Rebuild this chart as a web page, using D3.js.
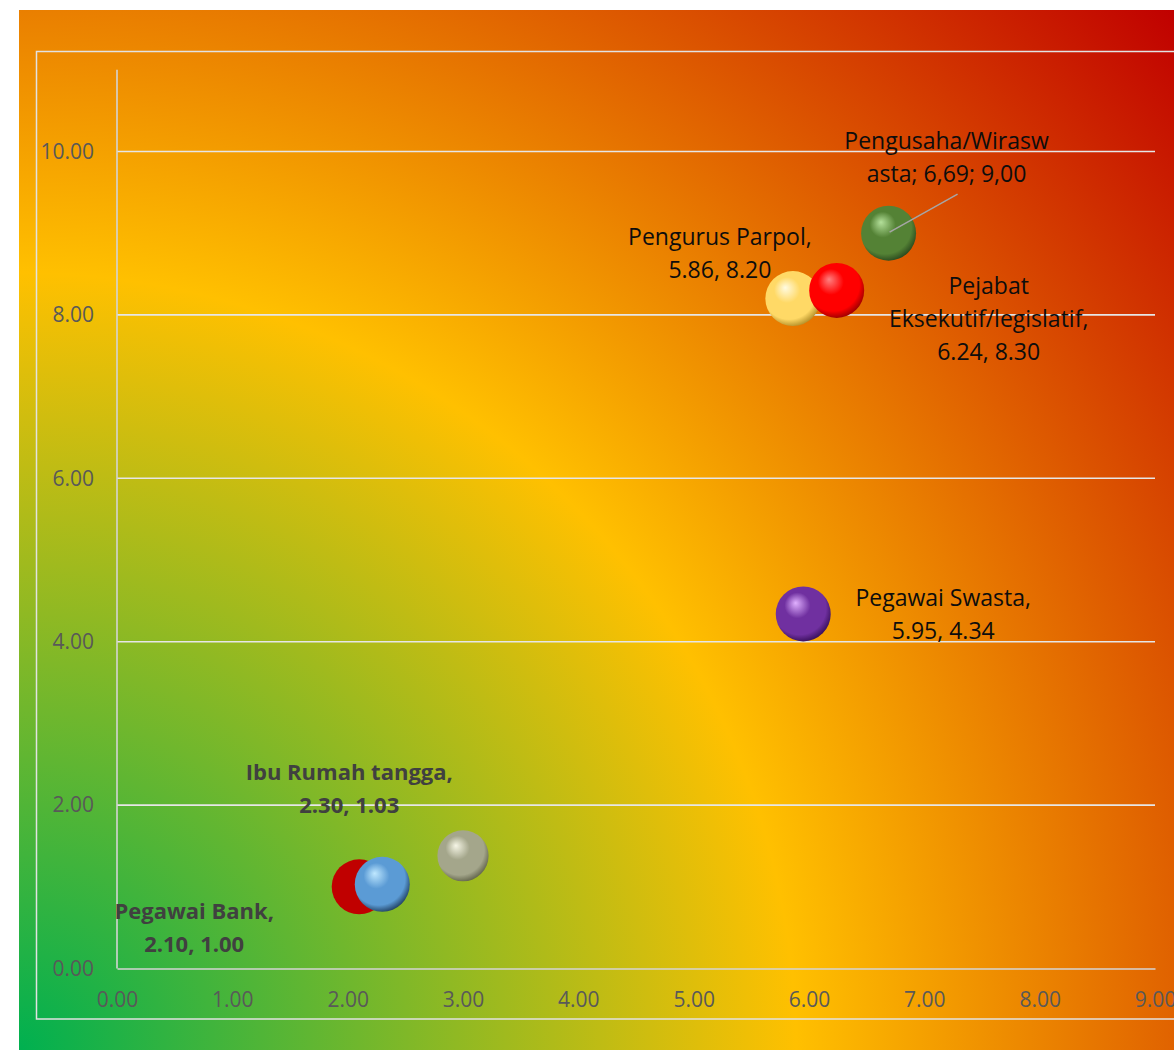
<!DOCTYPE html>
<html>
<head>
<meta charset="utf-8">
<script src="https://cdn.jsdelivr.net/npm/d3@7"></script>
<style>
  html, body { margin: 0; padding: 0; background: #ffffff; overflow: hidden; }
  svg { display: block; }
</style>
</head>
<body>
<svg id="chart" width="1174" height="1050"></svg>
<script>
// ---- Data ----
const categories = ["Pegawai Bank", "Ibu Rumah tangga", "(tanpa label)", "Pegawai Swasta", "Pengurus Parpol", "Pejabat Eksekutif/legislatif", "Pengusaha/Wiraswasta"];
const xValues = [2.10, 2.30, 3.00, 5.95, 5.86, 6.24, 6.69];
const yValues = [1.00, 1.03, 1.38, 4.34, 8.20, 8.30, 9.00];
const bubbleSizes = [1.0, 1.0, 0.93, 1.0, 1.0, 1.0, 1.0];
const labelLines = [
  ["Pegawai Bank,", "2.10, 1.00"],
  ["Ibu Rumah tangga,", "2.30, 1.03"],
  [],
  ["Pegawai Swasta,", "5.95, 4.34"],
  ["Pengurus Parpol,", "5.86, 8.20"],
  ["Pejabat", "Eksekutif/legislatif,", "6.24, 8.30"],
  ["Pengusaha/Wirasw", "asta; 6,69; 9,00"]
];
const xTicks = [0, 1, 2, 3, 4, 5, 6, 7, 8, 9];
const yTicks = [0, 2, 4, 6, 8, 10];

// ---- Styles / layout (not data) ----
const sphereStyles = [
  { flat: "#c00000" },
  { hi: "#bfe8ff", mid: "#5b9bd5", edge: "#17324f" },
  { hi: "#f6f6e6", mid: "#a4a68b", edge: "#585a42" },
  { hi: "#e0b0ff", mid: "#7030a0", edge: "#2e0a4e" },
  { hi: "#fffbe2", mid: "#ffd966", edge: "#a88420" },
  { hi: "#ff8080", mid: "#ff0000", edge: "#8a0000" },
  { hi: "#b4e09a", mid: "#548235", edge: "#24401a" }
];
// label anchor offsets (dx, dy of first baseline) relative to the point, and style
const labelLayout = [
  { dx: -165, dy: 32, bold: true },
  { dx: -33, dy: -104, bold: true },
  null,
  { dx: 140, dy: -8, bold: false },
  { dx: -73, dy: -54, bold: false },
  { dx: 152, dy: 4, bold: false },
  { dx: 58, dy: -84, bold: false }
];

const svg = d3.select("#chart");
const W = 1174, H = 1050;
const defs = svg.append("defs");

// background radial gradient from bottom-left corner
const bg = defs.append("radialGradient")
  .attr("id", "bgGrad")
  .attr("gradientUnits", "userSpaceOnUse")
  .attr("cx", 19).attr("cy", 1050).attr("r", 1554)
  .attr("fx", 19).attr("fy", 1050);
bg.append("stop").attr("offset", "0%").attr("stop-color", "#00b050");
bg.append("stop").attr("offset", "50%").attr("stop-color", "#ffc000");
bg.append("stop").attr("offset", "100%").attr("stop-color", "#c00000");

svg.append("rect").attr("x", 19).attr("y", 10).attr("width", 1200).attr("height", 1100)
  .attr("fill", "url(#bgGrad)");

// plot-area frame
svg.append("rect").attr("x", 36.5).attr("y", 51.5).attr("width", 1200).attr("height", 967.5)
  .attr("fill", "none").attr("stroke", "#e2e2e2").attr("stroke-width", 1.5);

const x = d3.scaleLinear().domain([0, 9]).range([117, 1155]);
const y = d3.scaleLinear().domain([0, 11]).range([968.5, 69.8]);

// gridlines
svg.append("g").selectAll("line").data(yTicks.filter(d => d > 0)).join("line")
  .attr("x1", x(0)).attr("x2", x(9))
  .attr("y1", d => y(d)).attr("y2", d => y(d))
  .attr("stroke", "#e6e6e6").attr("stroke-width", 1.6);

// y axis
const yAxis = svg.append("g").attr("transform", `translate(${x(0)},0)`)
  .call(d3.axisLeft(y).tickValues(yTicks).tickSize(0).tickPadding(23).tickFormat(d3.format(".2f")));
yAxis.select(".domain").attr("stroke", "#d4d4d4").attr("stroke-width", 1.6)
  .attr("d", `M0,${y(11)}V${y(0)}`);
yAxis.selectAll("text").attr("font-family", "'Open Sans', sans-serif").attr("font-size", 21)
  .attr("fill", "#595959");

// x axis
const xAxis = svg.append("g").attr("transform", `translate(0,${y(0)})`)
  .call(d3.axisBottom(x).tickValues(xTicks).tickSize(0).tickPadding(24).tickFormat(d3.format(".2f")));
xAxis.select(".domain").attr("stroke", "#d4d4d4").attr("stroke-width", 1.6);
xAxis.selectAll("text").attr("font-family", "'Open Sans', sans-serif").attr("font-size", 21)
  .attr("fill", "#595959");

// sphere gradients
sphereStyles.forEach((s, i) => {
  if (s.flat) return;
  const g = defs.append("radialGradient").attr("id", "sph" + i)
    .attr("cx", "45%").attr("cy", "42%").attr("r", "62%")
    .attr("fx", "36%").attr("fy", "30%");
  g.append("stop").attr("offset", "0%").attr("stop-color", s.hi);
  g.append("stop").attr("offset", "38%").attr("stop-color", s.mid);
  g.append("stop").attr("offset", "78%").attr("stop-color", s.mid);
  g.append("stop").attr("offset", "100%").attr("stop-color", s.edge);
});

const rScale = d3.scaleLinear().domain([0, 1]).range([0, 27.5]);
const points = categories.map((c, i) => ({ c, x: xValues[i], y: yValues[i], s: bubbleSizes[i], i }));

svg.append("g").selectAll("circle").data(points).join("circle")
  .attr("cx", d => x(d.x)).attr("cy", d => y(d.y)).attr("r", d => rScale(d.s))
  .attr("fill", d => sphereStyles[d.i].flat ? sphereStyles[d.i].flat : `url(#sph${d.i})`);

// leader line for Pengusaha label
const pg = points[6];
svg.append("line")
  .attr("x1", x(pg.x) + 1).attr("y1", y(pg.y) - 1)
  .attr("x2", x(pg.x) + 69).attr("y2", y(pg.y) - 39)
  .attr("stroke", "#a6a6a6").attr("stroke-width", 1.5);

// labels
const lg = svg.append("g");
points.forEach(d => {
  const L = labelLayout[d.i];
  if (!L) return;
  const t = lg.append("text")
    .attr("text-anchor", "middle")
    .attr("font-family", "'Open Sans', sans-serif")
    .attr("font-size", L.bold ? 22 : 23)
    .attr("font-weight", L.bold ? "bold" : "normal")
    .attr("fill", L.bold ? "#404040" : "#0d0d0d");
  labelLines[d.i].forEach((line, k) => {
    t.append("tspan").attr("x", x(d.x) + L.dx).attr("y", y(d.y) + L.dy + k * 33).text(line);
  });
});
</script>
</body>
</html>
